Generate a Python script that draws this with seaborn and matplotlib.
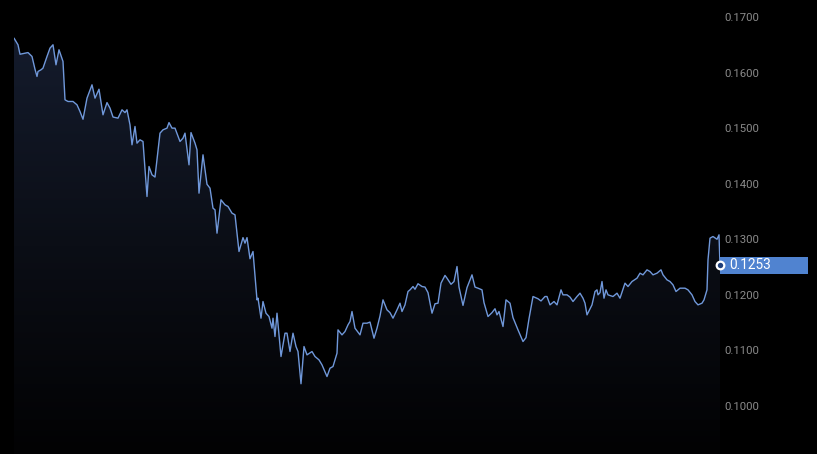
import numpy as np
import pandas as pd
import matplotlib
matplotlib.use("Agg")
import matplotlib.pyplot as plt
import matplotlib.transforms as mtransforms
from matplotlib.colors import LinearSegmentedColormap
from matplotlib.patches import Rectangle
import seaborn as sns

# -------------------------------
# Data
# -------------------------------
day_offset = [
    0, 4, 6, 14, 18, 21, 23, 24, 27, 29,
    33, 36, 39, 42, 45, 49, 51, 54, 59, 63,
    66, 69, 73, 78, 81, 85, 89, 93, 96, 99,
    104, 108, 111, 113, 116, 118, 121, 123, 126, 129,
    133, 135, 138, 141, 146, 149, 153, 155, 158, 161,
    166, 169, 171, 175, 177, 181, 183, 185, 189, 193,
    196, 199, 201, 203, 207, 211, 214, 218, 221, 225,
    229, 231, 233, 236, 239, 243, 244, 247, 249, 252,
    255, 258, 259, 261, 263, 267, 271, 273, 276, 279,
    282, 284, 287, 290, 293, 298, 301, 305, 308, 313,
    316, 319, 323, 324, 328, 331, 334, 336, 338, 341,
    346, 349, 353, 356, 360, 363, 366, 369, 373, 376,
    379, 383, 386, 388, 391, 394, 396, 399, 401, 404,
    408, 411, 414, 418, 421, 424, 427, 431, 433, 437,
    440, 443, 445, 449, 453, 458, 461, 464, 468, 470,
    474, 478, 481, 483, 485, 489, 492, 496, 499, 504,
    509, 512, 515, 519, 524, 527, 531, 533, 536, 540,
    543, 547, 549, 553, 556, 559, 563, 566, 569, 571,
    573, 578, 581, 583, 584, 586, 588, 590, 592, 594,
    599, 603, 606, 611, 614, 618, 623, 626, 629, 633,
    636, 639, 643, 647, 649, 653, 656, 659, 662, 666,
    671, 674, 678, 681, 684, 688, 690, 693, 694, 696,
    699, 703, 705, 706,
]
price = [
    0.1662, 0.1650, 0.1633, 0.1636, 0.1629, 0.1606, 0.1593, 0.1602, 0.1605, 0.1608,
    0.1629, 0.1644, 0.1650, 0.1614, 0.1641, 0.1620, 0.1551, 0.1548, 0.1548, 0.1542,
    0.1530, 0.1516, 0.1554, 0.1578, 0.1554, 0.1570, 0.1524, 0.1546, 0.1536, 0.1520,
    0.1518, 0.1533, 0.1528, 0.1533, 0.1506, 0.1470, 0.1503, 0.1473, 0.1479, 0.1476,
    0.1377, 0.1431, 0.1416, 0.1412, 0.1491, 0.1497, 0.1500, 0.1510, 0.1500, 0.1500,
    0.1476, 0.1482, 0.1491, 0.1434, 0.1492, 0.1473, 0.1461, 0.1383, 0.1452, 0.1399,
    0.1392, 0.1356, 0.1353, 0.1311, 0.1371, 0.1362, 0.1359, 0.1347, 0.1344, 0.1278,
    0.1303, 0.1293, 0.1303, 0.1265, 0.1278, 0.1191, 0.1194, 0.1158, 0.1188, 0.1167,
    0.1161, 0.1140, 0.1158, 0.1125, 0.1167, 0.1089, 0.1131, 0.1131, 0.1098, 0.1131,
    0.1107, 0.1098, 0.1040, 0.1107, 0.1092, 0.1098, 0.1089, 0.1083, 0.1074, 0.1053,
    0.1068, 0.1071, 0.1095, 0.1137, 0.1128, 0.1134, 0.1146, 0.1152, 0.1170, 0.1140,
    0.1128, 0.1149, 0.1149, 0.1151, 0.1122, 0.1140, 0.1162, 0.1191, 0.1173, 0.1168,
    0.1158, 0.1173, 0.1185, 0.1170, 0.1182, 0.1206, 0.1209, 0.1215, 0.1210, 0.1220,
    0.1215, 0.1214, 0.1204, 0.1167, 0.1184, 0.1185, 0.1221, 0.1235, 0.1230, 0.1219,
    0.1224, 0.1251, 0.1214, 0.1181, 0.1213, 0.1236, 0.1214, 0.1212, 0.1209, 0.1186,
    0.1161, 0.1168, 0.1175, 0.1164, 0.1170, 0.1143, 0.1191, 0.1185, 0.1159, 0.1137,
    0.1116, 0.1123, 0.1157, 0.1197, 0.1193, 0.1189, 0.1197, 0.1197, 0.1182, 0.1188,
    0.1182, 0.1209, 0.1200, 0.1200, 0.1196, 0.1188, 0.1197, 0.1203, 0.1194, 0.1185,
    0.1164, 0.1182, 0.1206, 0.1209, 0.1200, 0.1204, 0.1224, 0.1194, 0.1209, 0.1200,
    0.1197, 0.1203, 0.1194, 0.1221, 0.1215, 0.1224, 0.1230, 0.1239, 0.1236, 0.1245,
    0.1242, 0.1236, 0.1239, 0.1245, 0.1236, 0.1227, 0.1224, 0.1218, 0.1206, 0.1212,
    0.1212, 0.1209, 0.1200, 0.1188, 0.1182, 0.1185, 0.1191, 0.1209, 0.1263, 0.1302,
    0.1305, 0.1300, 0.1308, 0.1253,
]
y_ticks = [0.10, 0.11, 0.12, 0.13, 0.14, 0.15, 0.16, 0.17]
last_label = "0.1253"

assert len(day_offset) == len(price)

# -------------------------------
# Style
# -------------------------------
sns.set_style("dark", {"axes.facecolor": "black", "figure.facecolor": "black"})
plt.rcParams["font.family"] = ["Roboto", "DejaVu Sans"]

df = pd.DataFrame({"day": day_offset, "price": price})

fig = plt.figure(figsize=(8.17, 4.54), dpi=100)
ax = fig.add_axes([14 / 817, 0, 706 / 817, 1])
ax.set_facecolor("black")

ymin, ymax = 0.09136, 0.17306
xmin, xmax = df["day"].min(), df["day"].max()

# gradient area under the line
poly = ax.fill_between(df["day"], df["price"], ymin, color="none", linewidth=0)
grad = np.linspace(0, 1, 256).reshape(-1, 1)
fade = LinearSegmentedColormap.from_list("fade", ["#020203", "#0b0e16", "#141b2c"])
img = ax.imshow(grad, cmap=fade, aspect="auto", origin="lower",
                extent=[xmin, xmax, ymin, df["price"].max()], zorder=1)
img.set_clip_path(poly.get_paths()[0], transform=ax.transData)

# price line
sns.lineplot(data=df, x="day", y="price", ax=ax, color="#7098da",
             linewidth=1.0, zorder=3)

ax.set_xlim(xmin, xmax)
ax.set_ylim(ymin, ymax)
ax.set_xlabel("")
ax.set_ylabel("")
ax.grid(False)
for s in ax.spines.values():
    s.set_visible(False)

# y axis on the right
ax.yaxis.tick_right()
ax.set_yticks(y_ticks)
ax.set_yticklabels([f"{t:.4f}" for t in y_ticks])
ax.tick_params(axis="y", length=0, pad=3, labelsize=8.2, labelcolor="#8a8a8a")
ax.tick_params(axis="x", bottom=False, labelbottom=False)

# last value marker and label
last_day = df["day"].iloc[-1]
last_price = df["price"].iloc[-1]
trans = mtransforms.blended_transform_factory(ax.transAxes, ax.transData)
box_h = 17 / 5557
ax.add_patch(Rectangle((1.0, last_price - box_h / 2), 88 / 706, box_h,
                       transform=trans, facecolor="#5083d0", edgecolor="none",
                       clip_on=False, zorder=4))
ax.text(1 + 9 / 706, last_price, last_label, transform=trans, color="white",
        fontsize=9.8, va="center", ha="left", zorder=5)
ax.scatter([last_day], [last_price], s=30, facecolor="#1f3f7a",
           edgecolor="white", linewidth=1.6, zorder=6, clip_on=False)

fig.savefig("out.png", dpi=100, facecolor="black")
